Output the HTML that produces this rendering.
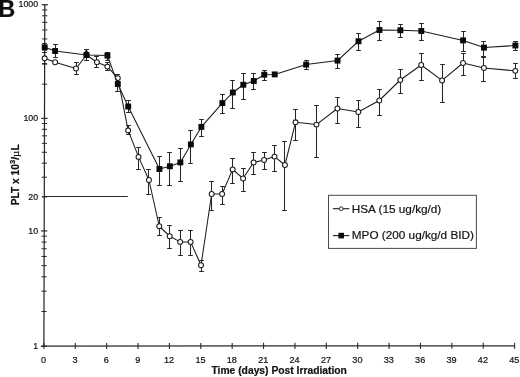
<!DOCTYPE html>
<html><head><meta charset="utf-8"><title>Figure B</title>
<style>html,body{margin:0;padding:0;background:#fff;overflow:hidden}body{width:520px;height:377px;position:relative}</style>
</head><body>
<svg width="520" height="377" viewBox="0 0 520 377" style="position:absolute;left:0;top:0">
<g stroke="#2a2a2a" stroke-width="1.25" fill="none">
<line x1="44.8" y1="4.2" x2="43.9" y2="346.2"/>
<line x1="41.6" y1="346.1" x2="514.6" y2="345.8"/>
</g>
<g stroke="#2a2a2a" stroke-width="1">
<line x1="40.80" y1="346.20" x2="47.00" y2="346.20" stroke-width="1.2"/>
<line x1="41.39" y1="311.49" x2="46.59" y2="311.49"/>
<line x1="41.44" y1="291.19" x2="46.64" y2="291.19"/>
<line x1="41.48" y1="276.78" x2="46.68" y2="276.78"/>
<line x1="41.51" y1="265.61" x2="46.71" y2="265.61"/>
<line x1="41.54" y1="256.48" x2="46.74" y2="256.48"/>
<line x1="41.56" y1="248.76" x2="46.76" y2="248.76"/>
<line x1="41.57" y1="242.07" x2="46.77" y2="242.07"/>
<line x1="41.59" y1="236.18" x2="46.79" y2="236.18"/>
<line x1="41.10" y1="230.90" x2="47.30" y2="230.90" stroke-width="1.2"/>
<line x1="41.69" y1="197.03" x2="46.89" y2="197.03"/>
<line x1="41.74" y1="177.22" x2="46.94" y2="177.22"/>
<line x1="41.78" y1="163.17" x2="46.98" y2="163.17"/>
<line x1="41.81" y1="152.27" x2="47.01" y2="152.27"/>
<line x1="41.83" y1="143.36" x2="47.03" y2="143.36"/>
<line x1="41.85" y1="135.83" x2="47.05" y2="135.83"/>
<line x1="41.87" y1="129.30" x2="47.07" y2="129.30"/>
<line x1="41.89" y1="123.55" x2="47.09" y2="123.55"/>
<line x1="41.40" y1="118.40" x2="47.60" y2="118.40" stroke-width="1.2"/>
<line x1="41.99" y1="84.19" x2="47.19" y2="84.19"/>
<line x1="42.04" y1="64.18" x2="47.24" y2="64.18"/>
<line x1="42.08" y1="49.98" x2="47.28" y2="49.98"/>
<line x1="42.11" y1="38.96" x2="47.31" y2="38.96"/>
<line x1="42.13" y1="29.96" x2="47.33" y2="29.96"/>
<line x1="42.15" y1="22.35" x2="47.35" y2="22.35"/>
<line x1="42.17" y1="15.76" x2="47.37" y2="15.76"/>
<line x1="42.18" y1="9.95" x2="47.38" y2="9.95"/>
<line x1="41.70" y1="4.75" x2="47.90" y2="4.75" stroke-width="1.2"/>
<line x1="43.90" y1="343.00" x2="43.90" y2="349.10" stroke-width="1.1"/>
<line x1="75.28" y1="342.98" x2="75.28" y2="349.08" stroke-width="1.1"/>
<line x1="106.66" y1="342.96" x2="106.66" y2="349.06" stroke-width="1.1"/>
<line x1="138.04" y1="342.94" x2="138.04" y2="349.04" stroke-width="1.1"/>
<line x1="169.42" y1="342.92" x2="169.42" y2="349.02" stroke-width="1.1"/>
<line x1="200.80" y1="342.90" x2="200.80" y2="349.00" stroke-width="1.1"/>
<line x1="232.18" y1="342.88" x2="232.18" y2="348.98" stroke-width="1.1"/>
<line x1="263.56" y1="342.86" x2="263.56" y2="348.96" stroke-width="1.1"/>
<line x1="294.94" y1="342.84" x2="294.94" y2="348.94" stroke-width="1.1"/>
<line x1="326.32" y1="342.82" x2="326.32" y2="348.92" stroke-width="1.1"/>
<line x1="357.70" y1="342.80" x2="357.70" y2="348.90" stroke-width="1.1"/>
<line x1="389.08" y1="342.78" x2="389.08" y2="348.88" stroke-width="1.1"/>
<line x1="420.46" y1="342.76" x2="420.46" y2="348.86" stroke-width="1.1"/>
<line x1="451.84" y1="342.74" x2="451.84" y2="348.84" stroke-width="1.1"/>
<line x1="483.22" y1="342.72" x2="483.22" y2="348.82" stroke-width="1.1"/>
<line x1="514.60" y1="342.70" x2="514.60" y2="348.80" stroke-width="1.1"/>
</g>
<line x1="42.4" y1="196.55" x2="127.8" y2="196.55" stroke="#2a2a2a" stroke-width="1.05"/>
<g stroke="#262626" stroke-width="1.05" fill="none">
<path d="M44.50 52.50V63.50M42.15 52.50H46.85M42.15 63.50H46.85"/>
<path d="M76.50 62.50V74.50M74.15 62.50H78.85M74.15 74.50H78.85"/>
<path d="M86.50 49.50V60.50M84.15 49.50H88.85M84.15 60.50H88.85"/>
<path d="M96.50 56.50V67.50M94.15 56.50H98.85M94.15 67.50H98.85"/>
<path d="M107.50 62.50V70.50M105.15 62.50H109.85M105.15 70.50H109.85"/>
<path d="M117.50 74.50V82.50M115.15 74.50H119.85M115.15 82.50H119.85"/>
<path d="M128.50 125.50V134.50M126.15 125.50H130.85M126.15 134.50H130.85"/>
<path d="M138.50 147.50V169.50M136.15 147.50H140.85M136.15 169.50H140.85"/>
<path d="M148.50 169.50V194.50M146.15 169.50H150.85M146.15 194.50H150.85"/>
<path d="M159.50 217.50V235.50M157.15 217.50H161.85M157.15 235.50H161.85"/>
<path d="M169.50 225.50V248.50M167.15 225.50H171.85M167.15 248.50H171.85"/>
<path d="M180.50 230.50V255.50M178.15 230.50H182.85M178.15 255.50H182.85"/>
<path d="M190.50 230.50V255.50M188.15 230.50H192.85M188.15 255.50H192.85"/>
<path d="M201.50 260.50V271.50M199.15 260.50H203.85M199.15 271.50H203.85"/>
<path d="M211.50 181.50V210.50M209.15 181.50H213.85M209.15 210.50H213.85"/>
<path d="M222.50 186.50V204.50M220.15 186.50H224.85M220.15 204.50H224.85"/>
<path d="M232.50 158.50V183.50M230.15 158.50H234.85M230.15 183.50H234.85"/>
<path d="M243.50 168.50V191.50M241.15 168.50H245.85M241.15 191.50H245.85"/>
<path d="M253.50 152.50V174.50M251.15 152.50H255.85M251.15 174.50H255.85"/>
<path d="M264.50 152.50V169.50M262.15 152.50H266.85M262.15 169.50H266.85"/>
<path d="M274.50 145.50V171.50M272.15 145.50H276.85M272.15 171.50H276.85"/>
<path d="M284.50 141.50V210.50M282.15 141.50H286.85M282.15 210.50H286.85"/>
<path d="M295.50 109.50V140.50M293.15 109.50H297.85M293.15 140.50H297.85"/>
<path d="M316.50 105.50V157.50M314.15 105.50H318.85M314.15 157.50H318.85"/>
<path d="M337.50 97.50V123.50M335.15 97.50H339.85M335.15 123.50H339.85"/>
<path d="M358.50 100.50V127.50M356.15 100.50H360.85M356.15 127.50H360.85"/>
<path d="M379.50 89.50V115.50M377.15 89.50H381.85M377.15 115.50H381.85"/>
<path d="M400.50 69.50V93.50M398.15 69.50H402.85M398.15 93.50H402.85"/>
<path d="M421.50 53.50V80.50M419.15 53.50H423.85M419.15 80.50H423.85"/>
<path d="M442.50 64.50V102.50M440.15 64.50H444.85M440.15 102.50H444.85"/>
<path d="M463.50 53.50V75.50M461.15 53.50H465.85M461.15 75.50H465.85"/>
<path d="M483.50 57.50V81.50M481.15 57.50H485.85M481.15 81.50H485.85"/>
<path d="M515.50 63.50V78.50M513.15 63.50H517.85M513.15 78.50H517.85"/>
</g>
<polyline points="44.65,58.30 55.10,62.25 76.00,68.50 86.50,55.00 96.94,62.25 107.39,66.60 117.82,78.10 128.14,130.40 138.53,156.90 148.93,180.00 159.27,226.25 169.71,236.25 180.15,241.90 190.61,241.90 201.01,265.25 211.66,194.00 222.12,194.00 232.64,169.40 243.08,178.50 253.58,162.50 264.04,160.00 274.51,156.60 284.95,165.00 295.52,122.30 316.44,124.60 337.40,108.50 358.31,112.00 379.26,100.50 400.23,80.00 421.19,65.00 442.07,80.45 463.04,63.00 483.94,68.00 515.32,70.85" fill="none" stroke="#1c1c1c" stroke-width="1.05" stroke-linejoin="round"/>
<circle cx="44.65" cy="58.30" r="2.45" fill="#fff" stroke="#1c1c1c" stroke-width="1.05"/>
<circle cx="55.10" cy="62.25" r="2.45" fill="#fff" stroke="#1c1c1c" stroke-width="1.05"/>
<circle cx="76.00" cy="68.50" r="2.45" fill="#fff" stroke="#1c1c1c" stroke-width="1.05"/>
<circle cx="86.50" cy="55.00" r="2.45" fill="#fff" stroke="#1c1c1c" stroke-width="1.05"/>
<circle cx="96.94" cy="62.25" r="2.45" fill="#fff" stroke="#1c1c1c" stroke-width="1.05"/>
<circle cx="107.39" cy="66.60" r="2.45" fill="#fff" stroke="#1c1c1c" stroke-width="1.05"/>
<circle cx="117.82" cy="78.10" r="2.45" fill="#fff" stroke="#1c1c1c" stroke-width="1.05"/>
<circle cx="128.14" cy="130.40" r="2.45" fill="#fff" stroke="#1c1c1c" stroke-width="1.05"/>
<circle cx="138.53" cy="156.90" r="2.45" fill="#fff" stroke="#1c1c1c" stroke-width="1.05"/>
<circle cx="148.93" cy="180.00" r="2.45" fill="#fff" stroke="#1c1c1c" stroke-width="1.05"/>
<circle cx="159.27" cy="226.25" r="2.45" fill="#fff" stroke="#1c1c1c" stroke-width="1.05"/>
<circle cx="169.71" cy="236.25" r="2.45" fill="#fff" stroke="#1c1c1c" stroke-width="1.05"/>
<circle cx="180.15" cy="241.90" r="2.45" fill="#fff" stroke="#1c1c1c" stroke-width="1.05"/>
<circle cx="190.61" cy="241.90" r="2.45" fill="#fff" stroke="#1c1c1c" stroke-width="1.05"/>
<circle cx="201.01" cy="265.25" r="2.45" fill="#fff" stroke="#1c1c1c" stroke-width="1.05"/>
<circle cx="211.66" cy="194.00" r="2.45" fill="#fff" stroke="#1c1c1c" stroke-width="1.05"/>
<circle cx="222.12" cy="194.00" r="2.45" fill="#fff" stroke="#1c1c1c" stroke-width="1.05"/>
<circle cx="232.64" cy="169.40" r="2.45" fill="#fff" stroke="#1c1c1c" stroke-width="1.05"/>
<circle cx="243.08" cy="178.50" r="2.45" fill="#fff" stroke="#1c1c1c" stroke-width="1.05"/>
<circle cx="253.58" cy="162.50" r="2.45" fill="#fff" stroke="#1c1c1c" stroke-width="1.05"/>
<circle cx="264.04" cy="160.00" r="2.45" fill="#fff" stroke="#1c1c1c" stroke-width="1.05"/>
<circle cx="274.51" cy="156.60" r="2.45" fill="#fff" stroke="#1c1c1c" stroke-width="1.05"/>
<circle cx="284.95" cy="165.00" r="2.45" fill="#fff" stroke="#1c1c1c" stroke-width="1.05"/>
<circle cx="295.52" cy="122.30" r="2.45" fill="#fff" stroke="#1c1c1c" stroke-width="1.05"/>
<circle cx="316.44" cy="124.60" r="2.45" fill="#fff" stroke="#1c1c1c" stroke-width="1.05"/>
<circle cx="337.40" cy="108.50" r="2.45" fill="#fff" stroke="#1c1c1c" stroke-width="1.05"/>
<circle cx="358.31" cy="112.00" r="2.45" fill="#fff" stroke="#1c1c1c" stroke-width="1.05"/>
<circle cx="379.26" cy="100.50" r="2.45" fill="#fff" stroke="#1c1c1c" stroke-width="1.05"/>
<circle cx="400.23" cy="80.00" r="2.45" fill="#fff" stroke="#1c1c1c" stroke-width="1.05"/>
<circle cx="421.19" cy="65.00" r="2.45" fill="#fff" stroke="#1c1c1c" stroke-width="1.05"/>
<circle cx="442.07" cy="80.45" r="2.45" fill="#fff" stroke="#1c1c1c" stroke-width="1.05"/>
<circle cx="463.04" cy="63.00" r="2.45" fill="#fff" stroke="#1c1c1c" stroke-width="1.05"/>
<circle cx="483.94" cy="68.00" r="2.45" fill="#fff" stroke="#1c1c1c" stroke-width="1.05"/>
<circle cx="515.32" cy="70.85" r="2.45" fill="#fff" stroke="#1c1c1c" stroke-width="1.05"/>
<path d="M83.5 53.5L86.3 49.5L89.1 53.5Z" fill="#0a0a0a"/>
<g stroke="#262626" stroke-width="1.05" fill="none">
<path d="M44.50 43.50V52.50M42.15 43.50H46.85M42.15 52.50H46.85"/>
<path d="M55.50 44.50V57.50M53.15 44.50H57.85M53.15 57.50H57.85"/>
<path d="M86.50 49.50V60.50M84.15 49.50H88.85M84.15 60.50H88.85"/>
<path d="M107.50 52.50V60.50M105.15 52.50H109.85M105.15 60.50H109.85"/>
<path d="M117.50 82.50V91.50M115.15 82.50H119.85M115.15 91.50H119.85"/>
<path d="M128.50 100.50V112.50M126.15 100.50H130.85M126.15 112.50H130.85"/>
<path d="M159.50 156.50V185.50M157.15 156.50H161.85M157.15 185.50H161.85"/>
<path d="M169.50 152.50V185.50M167.15 152.50H171.85M167.15 185.50H171.85"/>
<path d="M180.50 148.50V181.50M178.15 148.50H182.85M178.15 181.50H182.85"/>
<path d="M190.50 130.50V163.50M188.15 130.50H192.85M188.15 163.50H192.85"/>
<path d="M201.50 119.50V136.50M199.15 119.50H203.85M199.15 136.50H203.85"/>
<path d="M222.50 94.50V113.50M220.15 94.50H224.85M220.15 113.50H224.85"/>
<path d="M232.50 80.50V108.50M230.15 80.50H234.85M230.15 108.50H234.85"/>
<path d="M243.50 73.50V99.50M241.15 73.50H245.85M241.15 99.50H245.85"/>
<path d="M253.50 73.50V89.50M251.15 73.50H255.85M251.15 89.50H255.85"/>
<path d="M264.50 70.50V80.50M262.15 70.50H266.85M262.15 80.50H266.85"/>
<path d="M306.50 60.50V69.50M304.15 60.50H308.85M304.15 69.50H308.85"/>
<path d="M337.50 54.50V68.50M335.15 54.50H339.85M335.15 68.50H339.85"/>
<path d="M358.50 33.50V50.50M356.15 33.50H360.85M356.15 50.50H360.85"/>
<path d="M379.50 21.50V40.50M377.15 21.50H381.85M377.15 40.50H381.85"/>
<path d="M400.50 24.50V37.50M398.15 24.50H402.85M398.15 37.50H402.85"/>
<path d="M421.50 23.50V40.50M419.15 23.50H423.85M419.15 40.50H423.85"/>
<path d="M463.50 31.50V51.50M461.15 31.50H465.85M461.15 51.50H465.85"/>
<path d="M483.50 41.50V56.50M481.15 41.50H485.85M481.15 56.50H485.85"/>
<path d="M515.50 41.50V50.50M513.15 41.50H517.85M513.15 50.50H517.85"/>
</g>
<polyline points="44.68,47.30 55.13,51.00 86.50,55.00 107.42,55.60 117.80,84.00 128.20,106.50 159.42,169.00 169.89,166.25 180.36,162.40 190.86,144.40 201.37,126.90 222.35,103.10 232.84,92.50 243.32,84.75 253.79,81.00 264.27,74.70 274.73,74.40 306.13,64.60 337.52,60.60 358.49,41.25 379.44,30.00 400.36,30.25 421.28,31.00 463.09,40.40 484.00,47.60 515.38,45.50" fill="none" stroke="#1c1c1c" stroke-width="1.05" stroke-linejoin="round"/>
<rect x="41.73" y="44.35" width="5.9" height="5.9" fill="#0a0a0a"/>
<rect x="52.18" y="48.05" width="5.9" height="5.9" fill="#0a0a0a"/>
<rect x="83.55" y="52.05" width="5.9" height="5.9" fill="#0a0a0a"/>
<rect x="104.47" y="52.65" width="5.9" height="5.9" fill="#0a0a0a"/>
<rect x="114.85" y="81.05" width="5.9" height="5.9" fill="#0a0a0a"/>
<rect x="125.25" y="103.55" width="5.9" height="5.9" fill="#0a0a0a"/>
<rect x="156.47" y="166.05" width="5.9" height="5.9" fill="#0a0a0a"/>
<rect x="166.94" y="163.30" width="5.9" height="5.9" fill="#0a0a0a"/>
<rect x="177.41" y="159.45" width="5.9" height="5.9" fill="#0a0a0a"/>
<rect x="187.91" y="141.45" width="5.9" height="5.9" fill="#0a0a0a"/>
<rect x="198.42" y="123.95" width="5.9" height="5.9" fill="#0a0a0a"/>
<rect x="219.40" y="100.15" width="5.9" height="5.9" fill="#0a0a0a"/>
<rect x="229.89" y="89.55" width="5.9" height="5.9" fill="#0a0a0a"/>
<rect x="240.37" y="81.80" width="5.9" height="5.9" fill="#0a0a0a"/>
<rect x="250.84" y="78.05" width="5.9" height="5.9" fill="#0a0a0a"/>
<rect x="261.32" y="71.75" width="5.9" height="5.9" fill="#0a0a0a"/>
<rect x="271.78" y="71.45" width="5.9" height="5.9" fill="#0a0a0a"/>
<rect x="303.18" y="61.65" width="5.9" height="5.9" fill="#0a0a0a"/>
<rect x="334.57" y="57.65" width="5.9" height="5.9" fill="#0a0a0a"/>
<rect x="355.54" y="38.30" width="5.9" height="5.9" fill="#0a0a0a"/>
<rect x="376.49" y="27.05" width="5.9" height="5.9" fill="#0a0a0a"/>
<rect x="397.41" y="27.30" width="5.9" height="5.9" fill="#0a0a0a"/>
<rect x="418.33" y="28.05" width="5.9" height="5.9" fill="#0a0a0a"/>
<rect x="460.14" y="37.45" width="5.9" height="5.9" fill="#0a0a0a"/>
<rect x="481.05" y="44.65" width="5.9" height="5.9" fill="#0a0a0a"/>
<rect x="512.43" y="42.55" width="5.9" height="5.9" fill="#0a0a0a"/>
<rect x="328.5" y="195.3" width="147.9" height="53.1" fill="#fff" stroke="#4a4a4a" stroke-width="1"/>
<line x1="332.9" y1="208.7" x2="349.3" y2="208.7" stroke="#1c1c1c" stroke-width="1.1"/>
<circle cx="341.2" cy="208.7" r="1.9" fill="#fff" stroke="#1c1c1c" stroke-width="0.95"/>
<line x1="332.9" y1="235.6" x2="349.3" y2="235.6" stroke="#1c1c1c" stroke-width="1.1"/>
<rect x="338.4" y="232.8" width="5.6" height="5.6" fill="#0a0a0a"/>
<g font-family="Liberation Sans, Arial, sans-serif" fill="#111" stroke="#111" stroke-width="0.2">
<text x="351.8" y="212.9" font-size="11.75">HSA (15 ug/kg/d)</text>
<text x="351.8" y="239.3" font-size="11.75">MPO (200 ug/kg/d BID)</text>
<text x="38.1" y="7.20" font-size="8.8" text-anchor="end">1000</text>
<text x="38.1" y="120.90" font-size="8.8" text-anchor="end">100</text>
<text x="38.1" y="199.80" font-size="8.8" text-anchor="end">20</text>
<text x="38.1" y="233.50" font-size="8.8" text-anchor="end">10</text>
<text x="38.1" y="349.00" font-size="8.8" text-anchor="end">1</text>
<text x="43.60" y="362.6" font-size="9.1" text-anchor="middle">0</text>
<text x="74.98" y="362.6" font-size="9.1" text-anchor="middle">3</text>
<text x="106.36" y="362.6" font-size="9.1" text-anchor="middle">6</text>
<text x="137.74" y="362.6" font-size="9.1" text-anchor="middle">9</text>
<text x="169.12" y="362.6" font-size="9.1" text-anchor="middle">12</text>
<text x="200.50" y="362.6" font-size="9.1" text-anchor="middle">15</text>
<text x="231.88" y="362.6" font-size="9.1" text-anchor="middle">18</text>
<text x="263.26" y="362.6" font-size="9.1" text-anchor="middle">21</text>
<text x="294.64" y="362.6" font-size="9.1" text-anchor="middle">24</text>
<text x="326.02" y="362.6" font-size="9.1" text-anchor="middle">27</text>
<text x="357.40" y="362.6" font-size="9.1" text-anchor="middle">30</text>
<text x="388.78" y="362.6" font-size="9.1" text-anchor="middle">33</text>
<text x="420.16" y="362.6" font-size="9.1" text-anchor="middle">36</text>
<text x="451.54" y="362.6" font-size="9.1" text-anchor="middle">39</text>
<text x="482.92" y="362.6" font-size="9.1" text-anchor="middle">42</text>
<text x="514.30" y="362.6" font-size="9.1" text-anchor="middle">45</text>
<text x="279.2" y="373.6" font-size="10.3" font-weight="bold" text-anchor="middle">Time (days) Post Irradiation</text>
<text transform="translate(19.3 205.2) rotate(-90)" font-size="10.2" font-weight="bold">PLT x 10<tspan font-size="7.6" dy="-4.3">3</tspan><tspan dy="4.3">/</tspan><tspan font-family="Liberation Serif, serif" font-weight="normal" font-size="11">µ</tspan>L</text>
<text x="-1.8" y="16.55" font-size="23.6" font-weight="bold">B</text>
</g>
</svg>
</body></html>
